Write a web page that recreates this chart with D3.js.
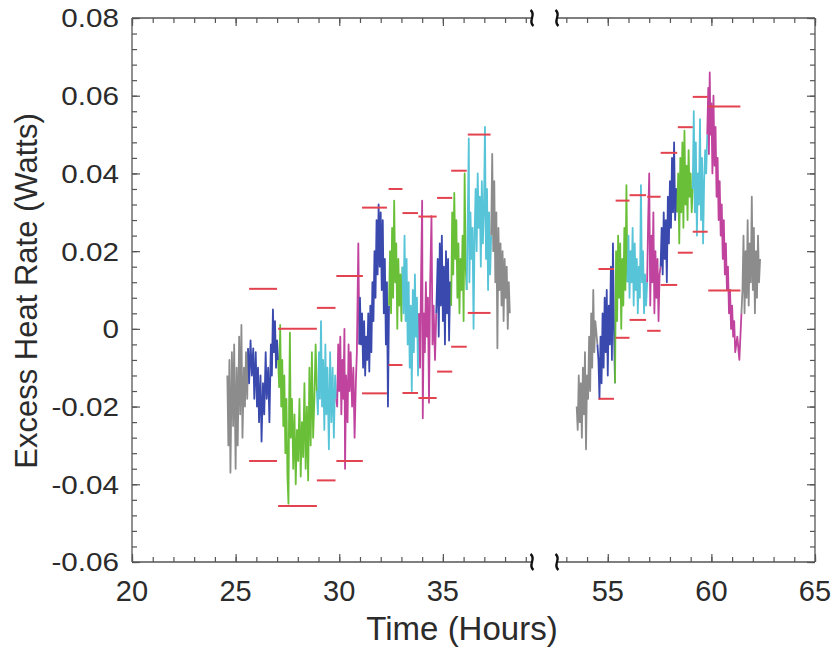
<!DOCTYPE html>
<html>
<head>
<meta charset="utf-8">
<script src="https://cdn.jsdelivr.net/npm/d3@7"></script>
<style>
  body { margin: 0; background: #fff; }
  text { font-family: "Liberation Sans", Arial, Helvetica, sans-serif; fill: #2b2b2b; }
</style>
</head>
<body>
<div id="chart"></div>
<script>
// tick labels
var yTicks = [-0.06, -0.04, -0.02, 0, 0.02, 0.04, 0.06, 0.08];
var yTickLabels = ["-0.06", "-0.04", "-0.02", "0", "0.02", "0.04", "0.06", "0.08"];
var xTicksLeft = [20, 25, 30, 35];
var xTicksRight = [55, 60, 65];

// traces, [hours, watts]
var gray1 = [[24.60,-0.012],[24.65,-0.030],[24.70,-0.008],[24.75,-0.037],[24.82,-0.006],[24.88,-0.025],[24.93,-0.004],[25.00,-0.036],[25.05,-0.010],[25.10,-0.030],[25.17,-0.002],[25.22,-0.022],[25.28,0.001],[25.33,-0.028],[25.40,-0.010],[25.45,-0.020],[25.50,-0.006],[25.56,-0.018],[25.60,-0.005]];
var blue1 = [[25.60,-0.005],[25.65,-0.014],[25.72,-0.003],[25.78,-0.012],[25.85,-0.005],[25.90,-0.018],[25.97,-0.006],[26.03,-0.020],[26.08,-0.010],[26.13,-0.024],[26.20,-0.012],[26.25,-0.029],[26.32,-0.014],[26.38,-0.022],[26.45,-0.006],[26.50,-0.018],[26.57,-0.010],[26.63,-0.024],[26.70,-0.004],[26.75,-0.012],[26.80,0.005],[26.85,-0.006],[26.90,0.002],[26.95,-0.010],[27.00,-0.003],[27.05,-0.008]];
var green1 = [[27.05,-0.008],[27.10,-0.015],[27.15,0.001],[27.20,-0.020],[27.25,-0.008],[27.30,-0.025],[27.35,-0.012],[27.40,-0.032],[27.45,-0.018],[27.50,-0.038],[27.55,-0.045],[27.58,-0.020],[27.62,-0.001],[27.66,-0.028],[27.72,-0.018],[27.78,-0.036],[27.84,-0.022],[27.90,-0.040],[27.96,-0.026],[28.02,-0.034],[28.08,-0.018],[28.14,-0.038],[28.20,-0.024],[28.26,-0.033],[28.32,-0.014],[28.38,-0.036],[28.44,-0.020],[28.50,-0.039],[28.56,-0.010],[28.62,-0.030],[28.68,-0.006],[28.74,-0.028],[28.80,-0.018],[28.86,-0.004],[28.92,-0.016]];
var cyan1 = [[28.92,-0.016],[28.97,-0.022],[29.02,-0.006],[29.07,-0.018],[29.12,0.002],[29.17,-0.020],[29.22,-0.008],[29.28,-0.026],[29.33,-0.004],[29.38,-0.022],[29.43,-0.010],[29.50,-0.031],[29.56,-0.006],[29.62,-0.024],[29.68,-0.010],[29.74,-0.028],[29.80,-0.012],[29.86,-0.018]];
var magenta1 = [[29.86,-0.018],[29.90,-0.020],[29.95,-0.004],[30.00,-0.016],[30.05,-0.002],[30.10,-0.022],[30.15,-0.008],[30.20,-0.018],[30.25,0.000],[30.28,-0.036],[30.33,-0.012],[30.40,-0.024],[30.45,-0.004],[30.50,-0.016],[30.55,-0.006],[30.62,-0.020],[30.68,-0.010],[30.74,-0.028],[30.80,-0.014],[30.85,-0.006],[30.92,0.022],[30.97,-0.004]];
var blue2 = [[30.97,-0.004],[31.00,0.008],[31.05,-0.004],[31.10,0.004],[31.15,-0.010],[31.20,0.002],[31.25,-0.012],[31.30,-0.002],[31.35,-0.008],[31.40,0.004],[31.45,-0.011],[31.50,0.006],[31.55,-0.006],[31.60,0.012],[31.65,0.002],[31.70,0.020],[31.75,0.008],[31.80,0.028],[31.85,0.014],[31.90,0.032],[31.95,0.016],[32.00,0.030],[32.05,0.010],[32.10,0.028],[32.15,0.004],[32.20,0.018],[32.25,-0.004],[32.30,0.012],[32.35,-0.020],[32.40,0.006]];
var green2 = [[32.40,0.006],[32.45,0.020],[32.50,0.004],[32.55,0.026],[32.60,0.008],[32.65,0.033],[32.70,0.012],[32.75,0.022],[32.80,0.000],[32.85,0.018],[32.90,0.006],[32.95,0.014],[33.00,0.002],[33.05,0.016]];
var cyan2 = [[33.05,0.016],[33.10,0.004],[33.15,0.024],[33.20,0.002],[33.25,0.018],[33.30,-0.004],[33.35,0.012],[33.40,-0.010],[33.45,0.006],[33.50,-0.016],[33.55,0.010],[33.60,-0.006],[33.65,0.014],[33.70,-0.002],[33.75,0.008],[33.80,-0.012],[33.85,0.004]];
var magenta2 = [[33.85,0.004],[33.90,-0.010],[33.95,0.014],[34.00,0.033],[34.03,-0.023],[34.08,0.004],[34.13,-0.006],[34.18,0.012],[34.23,-0.002],[34.28,0.008],[34.33,-0.019],[34.38,0.010],[34.45,0.029],[34.50,-0.004],[34.55,0.006],[34.62,-0.008],[34.68,0.004]];
var blue3 = [[34.68,0.004],[34.75,0.018],[34.80,-0.002],[34.85,0.022],[34.90,0.006],[34.95,0.024],[35.00,0.002],[35.05,0.016],[35.10,-0.004],[35.15,0.020],[35.20,0.004],[35.25,0.018],[35.30,-0.003],[35.35,0.012],[35.40,0.006]];
var green3 = [[35.40,0.006],[35.45,0.030],[35.50,0.014],[35.55,0.035],[35.60,0.018],[35.65,0.028],[35.70,0.008],[35.75,0.022],[35.80,0.004],[35.85,0.018],[35.90,0.010],[35.95,0.024],[36.00,0.002],[36.05,0.040],[36.10,0.016],[36.15,0.010]];
var cyan3 = [[36.15,0.010],[36.20,0.028],[36.25,0.049],[36.28,0.012],[36.33,0.030],[36.38,0.018],[36.43,0.026],[36.48,0.000],[36.53,0.024],[36.58,0.036],[36.63,0.020],[36.68,0.040],[36.73,0.026],[36.78,0.034],[36.83,0.016],[36.88,0.038],[36.93,0.022],[36.98,0.030],[37.03,0.052],[37.08,0.018],[37.13,0.036],[37.18,0.010],[37.23,0.030],[37.28,0.014],[37.33,0.024]];
var gray2 = [[37.33,0.024],[37.38,0.045],[37.43,0.020],[37.48,0.038],[37.53,0.012],[37.58,0.030],[37.63,-0.005],[37.68,0.026],[37.73,0.010],[37.78,0.022],[37.83,0.006],[37.88,0.020],[37.93,0.002],[37.98,0.018],[38.03,0.008],[38.08,0.016],[38.13,0.000],[38.18,0.012],[38.23,0.004]];
var gray3 = [[53.50,-0.020],[53.55,-0.026],[53.60,-0.012],[53.65,-0.024],[53.70,-0.014],[53.75,-0.028],[53.80,-0.010],[53.85,-0.022],[53.90,-0.006],[53.95,-0.031],[54.00,-0.012],[54.05,-0.018],[54.10,-0.002],[54.15,-0.016],[54.20,0.004],[54.25,-0.010],[54.30,0.010],[54.35,-0.006],[54.40,0.002],[54.50,-0.004]];
var blue4 = [[54.50,-0.004],[54.55,-0.008],[54.60,-0.018],[54.65,-0.002],[54.70,-0.014],[54.75,0.004],[54.80,-0.010],[54.85,0.008],[54.90,-0.006],[54.95,0.010],[55.00,-0.012],[55.05,0.006],[55.10,-0.004],[55.15,0.016],[55.20,-0.008],[55.25,0.022],[55.30,0.000],[55.35,-0.014]];
var green4 = [[55.35,-0.014],[55.40,0.020],[55.45,0.002],[55.50,0.024],[55.55,0.008],[55.60,0.022],[55.65,0.000],[55.70,0.018],[55.75,0.006],[55.80,0.026],[55.85,0.010],[55.90,0.037],[55.95,0.012]];
var cyan4 = [[55.95,0.012],[56.00,0.024],[56.05,0.008],[56.10,0.020],[56.15,0.012],[56.20,0.026],[56.25,0.006],[56.30,0.022],[56.35,0.010],[56.40,0.018],[56.45,0.004],[56.50,0.016],[56.55,0.008],[56.60,0.037],[56.65,0.012],[56.70,0.020],[56.75,0.004],[56.80,0.014],[56.85,0.006],[56.90,0.012]];
var magenta4 = [[56.90,0.012],[56.95,0.028],[57.00,0.040],[57.05,0.006],[57.10,0.024],[57.15,0.012],[57.20,0.030],[57.25,0.004],[57.30,0.020],[57.35,0.008],[57.40,0.018],[57.45,0.002],[57.50,0.014],[57.55,0.016]];
var blue5 = [[57.55,0.016],[57.60,0.026],[57.65,0.014],[57.70,0.030],[57.75,0.018],[57.80,0.028],[57.85,0.012],[57.90,0.034],[57.95,0.022],[58.00,0.038],[58.05,0.026],[58.10,0.044],[58.15,0.030],[58.20,0.048],[58.25,0.028],[58.30,0.036],[58.35,0.030]];
var green5 = [[58.35,0.030],[58.40,0.040],[58.45,0.022],[58.50,0.044],[58.55,0.030],[58.60,0.048],[58.65,0.026],[58.70,0.051],[58.75,0.032],[58.80,0.042],[58.85,0.028],[58.90,0.046],[58.95,0.034],[59.00,0.040],[59.05,0.030],[59.10,0.036]];
var cyan5 = [[59.10,0.036],[59.15,0.056],[59.20,0.030],[59.25,0.048],[59.30,0.024],[59.35,0.040],[59.40,0.032],[59.45,0.054],[59.50,0.028],[59.55,0.044],[59.60,0.022],[59.65,0.038],[59.70,0.046],[59.75,0.040],[59.80,0.050]];
var magenta5 = [[59.80,0.050],[59.85,0.062],[59.88,0.045],[59.92,0.066],[59.96,0.050],[60.00,0.058],[60.05,0.040],[60.10,0.060],[60.15,0.042],[60.20,0.052],[60.25,0.034],[60.30,0.044],[60.35,0.028],[60.40,0.038],[60.45,0.024],[60.50,0.032],[60.55,0.018],[60.60,0.028],[60.65,0.014],[60.70,0.022],[60.75,0.010],[60.80,0.016],[60.85,0.004],[60.90,0.010],[60.95,0.000],[61.00,0.006],[61.05,-0.002],[61.10,0.002],[61.15,-0.006],[61.25,-0.002],[61.35,-0.008],[61.45,0.004]];
var gray4 = [[61.45,0.004],[61.50,0.010],[61.55,0.024],[61.60,0.004],[61.65,0.020],[61.70,0.008],[61.75,0.028],[61.80,0.006],[61.85,0.022],[61.90,0.012],[61.95,0.034],[62.00,0.010],[62.05,0.026],[62.10,0.004],[62.15,0.020],[62.20,0.008],[62.25,0.024],[62.30,0.012],[62.35,0.018]];

// red limit bars: start hour, end hour, upper value, lower value
var barStart = [25.65, 27.05, 28.92, 29.86, 31.10, 32.38, 33.05, 33.82, 34.72, 35.40, 36.20, 54.55, 55.38, 56.05, 56.90, 57.55, 58.38, 59.10, 59.85];
var barEnd   = [27.00, 28.92, 29.82, 31.14, 32.30, 33.05, 33.80, 34.70, 35.45, 36.15, 37.30, 55.30, 56.05, 56.85, 57.55, 58.35, 59.10, 59.82, 61.40];
var barHigh  = [0.0103, 0.0000, 0.0054, 0.0136, 0.0312, 0.0360, 0.0298, 0.0289, 0.0337, 0.0407, 0.0500, 0.0154, 0.0330, 0.0344, 0.0340, 0.0453, 0.0519, 0.0597, 0.0572];
var barLow   = [-0.0340, -0.0456, -0.0390, -0.0340, -0.0166, -0.0093, -0.0165, -0.0178, -0.0110, -0.0046, 0.0041, -0.0180, -0.0023, 0.0023, -0.0005, 0.0113, 0.0196, 0.0250, 0.0099];

var colors = {gray: "#8c8c8c", blue: "#3a49ae", green: "#6abf38", cyan: "#58c4d8", magenta: "#c0439d"};
var traces = [
    [gray1, "gray"], [blue1, "blue"], [green1, "green"], [cyan1, "cyan"], [magenta1, "magenta"],
    [blue2, "blue"], [green2, "green"], [cyan2, "cyan"], [magenta2, "magenta"],
    [blue3, "blue"], [green3, "green"], [cyan3, "cyan"], [gray2, "gray"],
    [gray3, "gray"], [blue4, "blue"], [green4, "green"], [cyan4, "cyan"], [magenta4, "magenta"],
    [blue5, "blue"], [green5, "green"], [cyan5, "cyan"], [magenta5, "magenta"], [gray4, "gray"]
];

var W = 834, H = 649;
var plotL = 132, plotR = 815, plotT = 18, plotB = 562;
var gapL = 532, gapR = 557;

var svg = d3.select("#chart").append("svg").attr("width", W).attr("height", H);

var xLeft = d3.scaleLinear().domain([20, 39.3]).range([plotL, gapL]);
var xRight = d3.scaleLinear().domain([52.55, 65]).range([gapR, plotR]);
var y = d3.scaleLinear().domain([-0.06, 0.08]).range([plotB, plotT]);
function x(t) { return t < 45 ? xLeft(t) : xRight(t); }

// data traces
var line = d3.line().x(function (d) { return x(d[0]); }).y(function (d) { return y(d[1]); });
svg.append("g").selectAll("path").data(traces).enter().append("path")
    .attr("d", function (d) { return line(d[0]); })
    .attr("fill", "none")
    .attr("stroke", function (d) { return colors[d[1]]; })
    .attr("stroke-width", 1.8)
    .attr("stroke-linejoin", "round");

// red bars
var bars = svg.append("g").attr("stroke", "#e2434f").attr("stroke-width", 2);
barStart.forEach(function (s, i) {
    [barHigh[i], barLow[i]].forEach(function (v) {
        bars.append("line")
            .attr("x1", x(s)).attr("x2", x(barEnd[i]))
            .attr("y1", y(v)).attr("y2", y(v));
    });
});

// frame
var axisColor = "#555";
var frame = svg.append("g").attr("stroke", axisColor).attr("stroke-width", 1.3).attr("fill", "none");
frame.append("line").attr("x1", plotL).attr("x2", plotL).attr("y1", plotT).attr("y2", plotB);
frame.append("line").attr("x1", plotR).attr("x2", plotR).attr("y1", plotT).attr("y2", plotB);
[plotT, plotB].forEach(function (yy) {
    frame.append("line").attr("x1", plotL).attr("x2", gapL).attr("y1", yy).attr("y2", yy);
    frame.append("line").attr("x1", gapR).attr("x2", plotR).attr("y1", yy).attr("y2", yy);
});

// ticks, pointing inward
function tickAxis(axis, tx, ty) {
    var g = svg.append("g").attr("transform", "translate(" + tx + "," + ty + ")").call(axis);
    g.select(".domain").remove();
    g.selectAll(".tick line").attr("stroke", axisColor).attr("stroke-width", 1.2);
    g.selectAll("text").remove();
}
var minorLeft = d3.range(20, 40, 1), minorRight = d3.range(53, 66, 1);
[[xLeft, minorLeft, 5], [xLeft, xTicksLeft, 8], [xRight, minorRight, 5], [xRight, xTicksRight, 8]].forEach(function (a) {
    tickAxis(d3.axisTop(a[0]).tickValues(a[1]).tickSize(a[2]), 0, plotB);
    tickAxis(d3.axisBottom(a[0]).tickValues(a[1]).tickSize(a[2]), 0, plotT);
});
var yMinor = d3.range(-0.06, 0.0801, 0.004);
[[yMinor, 5], [yTicks, 8]].forEach(function (a) {
    tickAxis(d3.axisRight(y).tickValues(a[0]).tickSize(a[1]), plotL, 0);
    tickAxis(d3.axisLeft(y).tickValues(a[0]).tickSize(a[1]), plotR, 0);
});

// break marks
var squig = svg.append("g").attr("stroke", "#111").attr("stroke-width", 2.4).attr("fill", "none");
[gapL, gapR].forEach(function (gx) {
    [plotT, plotB].forEach(function (gy) {
        squig.append("path")
            .attr("d", "M" + (gx - 1.5) + "," + (gy - 8) + " C" + (gx + 5) + "," + (gy - 3) + " " + (gx - 5) + "," + (gy + 3) + " " + (gx + 1.5) + "," + (gy + 8));
    });
});

// y tick labels (slightly wide in the original)
var yLab = svg.append("g");
yTicks.forEach(function (v, i) {
    yLab.append("text")
        .attr("transform", "translate(119," + y(v) + ") scale(1.14,1)")
        .attr("text-anchor", "end")
        .attr("dy", "0.36em")
        .style("font-size", "26px")
        .text(yTickLabels[i]);
});

// x tick labels
var xLab = svg.append("g");
xTicksLeft.map(function (t) { return [xLeft(t), t]; })
    .concat(xTicksRight.map(function (t) { return [xRight(t), t]; }))
    .forEach(function (d) {
        xLab.append("text")
            .attr("x", d[0]).attr("y", 601)
            .attr("text-anchor", "middle")
            .style("font-size", "29px")
            .text(d[1]);
    });

// axis titles
svg.append("text")
    .attr("x", 462).attr("y", 640)
    .attr("text-anchor", "middle")
    .style("font-size", "33px")
    .text("Time (Hours)");

svg.append("text")
    .attr("transform", "translate(37,291) rotate(-90)")
    .attr("text-anchor", "middle")
    .style("font-size", "31px")
    .text("Excess Heat Rate (Watts)");
</script>
</body>
</html>
